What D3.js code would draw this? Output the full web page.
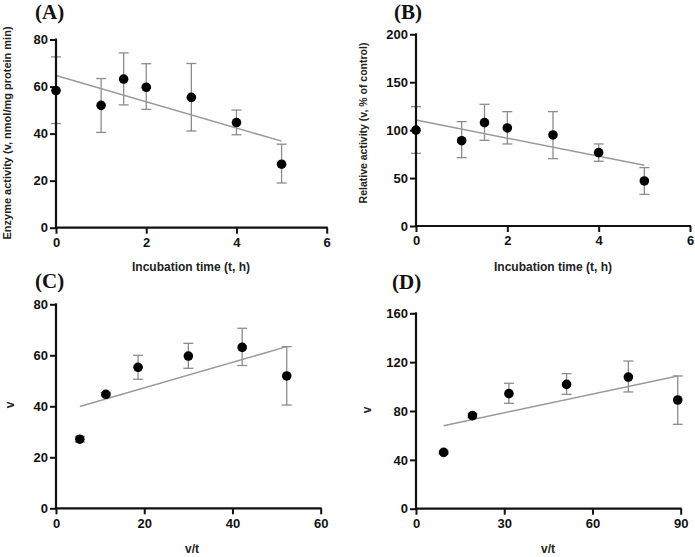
<!DOCTYPE html>
<html>
<head>
<meta charset="utf-8">
<script src="https://cdn.jsdelivr.net/npm/d3@7"></script>
<style>
  html, body { margin: 0; padding: 0; background: #fff; }
  svg { display: block; }
  .tick text { font-family: "Liberation Sans", Arial, sans-serif; font-weight: bold; font-size: 13px; fill: #111; }
  .panel-label { font-family: "Liberation Serif", "Times New Roman", serif; font-weight: bold; font-size: 21px; fill: #111; }
  .axis-title { font-family: "Liberation Sans", Arial, sans-serif; font-weight: bold; fill: #222; }
</style>
</head>
<body>
<svg id="chart" width="695" height="557"></svg>
<script>
// ---------- Data ----------
// Panel A: enzyme activity vs incubation time
const timeA = [0, 1, 1.5, 2, 3, 4, 5];
const activityA = [58.3, 52.0, 63.2, 59.7, 55.4, 44.7, 27.0];
const errLowA = [44.3, 40.5, 52.2, 50.3, 41.1, 39.5, 19.0];
const errHighA = [72.6, 63.4, 74.3, 69.7, 69.8, 50.0, 35.5];
const fitA = [[0, 64.7], [5, 36.8]];

// Panel B: relative activity (% of control)
const timeB = [0, 1, 1.5, 2, 3, 4, 5];
const activityB = [100.0, 89.0, 107.8, 102.3, 95.0, 76.5, 47.0];
const errLowB = [75.8, 71.3, 89.4, 85.6, 70.3, 67.5, 33.0];
const errHighB = [124.5, 108.9, 127.0, 119.3, 119.3, 85.6, 60.9];
const fitB = [[0, 110.6], [5, 63.3]];

// Panel C: v vs v/t
const vtC = [5.4, 11.3, 18.6, 30.0, 42.2, 52.3];
const vC = [27.1, 44.7, 55.3, 59.7, 63.1, 51.9];
const errLowC = [26.0, 44.0, 50.6, 54.9, 56.0, 40.5];
const errHighC = [28.2, 45.4, 60.0, 64.7, 70.6, 63.4];
const fitC = [[5.4, 39.9], [52.3, 63.4]];

// Panel D: v (% of control) vs v/t
const vtD = [9.4, 19.2, 31.6, 51.2, 72.2, 89.0];
const vD = [46.1, 76.2, 94.2, 101.8, 107.8, 89.0];
const errLowD = [45.0, 74.5, 86.3, 93.6, 95.6, 69.1];
const errHighD = [47.2, 78.0, 102.7, 110.6, 120.9, 108.7];
const fitD = [[9.4, 68.0], [89.0, 108.7]];

// Tick labels
const ticksXA = [0, 2, 4, 6], ticksYA = [0, 20, 40, 60, 80];
const ticksXB = [0, 2, 4, 6], ticksYB = [0, 50, 100, 150, 200];
const ticksXC = [0, 20, 40, 60], ticksYC = [0, 20, 40, 60, 80];
const ticksXD = [0, 30, 60, 90], ticksYD = [0, 40, 80, 120, 160];

const panelLabels = ["(A)", "(B)", "(C)", "(D)"];
const xTitles = ["Incubation time (t, h)", "Incubation time (t, h)", "v/t", "v/t"];
const yTitles = ["Enzyme activity (v, nmol/mg protein min)", "Relative activity (v, % of control)", "v", "v"];

// ---------- Drawing ----------
const svg = d3.select("#chart");

function panel(cfg) {
  const x = d3.scaleLinear().domain(cfg.xDomain).range([cfg.left, cfg.right]);
  const y = d3.scaleLinear().domain(cfg.yDomain).range([cfg.bottom, cfg.top]);
  const g = svg.append("g");
  const grey = "#8c8c8c";
  const cap = 5;

  // error bars (under the axes)
  const eb = g.append("g").attr("stroke", grey).attr("stroke-width", 1.3).attr("fill", "none");
  cfg.xs.forEach((xv, i) => {
    const lo = cfg.lo[i], hi = cfg.hi[i];
    eb.append("line").attr("x1", x(xv)).attr("x2", x(xv)).attr("y1", y(lo)).attr("y2", y(hi));
    eb.append("line").attr("x1", x(xv) - cap).attr("x2", x(xv) + cap).attr("y1", y(lo)).attr("y2", y(lo));
    eb.append("line").attr("x1", x(xv) - cap).attr("x2", x(xv) + cap).attr("y1", y(hi)).attr("y2", y(hi));
  });

  // fit line
  g.append("path")
    .datum(cfg.fit)
    .attr("fill", "none")
    .attr("stroke", "#9a9a9a")
    .attr("stroke-width", 1.5)
    .attr("d", d3.line().x(d => x(d[0])).y(d => y(d[1])));

  // axes
  const xAxis = g.append("g")
    .attr("transform", `translate(0,${cfg.bottom})`)
    .call(d3.axisBottom(x).tickValues(cfg.xTicks).tickFormat(d3.format("d")).tickSize(6).tickPadding(4));
  const yAxis = g.append("g")
    .attr("transform", `translate(${cfg.left},0)`)
    .call(d3.axisLeft(y).tickValues(cfg.yTicks).tickFormat(d3.format("d")).tickSize(6).tickPadding(2));
  [xAxis, yAxis].forEach(a => {
    a.select(".domain").attr("stroke", "#111").attr("stroke-width", 2.2);
    a.selectAll(".tick line").attr("stroke", "#111").attr("stroke-width", 2);
  });
  xAxis.select(".domain").attr("d", `M${cfg.left - 1},0H${cfg.right + 1}`);
  yAxis.select(".domain").attr("d", `M0,${cfg.top - 1}V${cfg.bottom + 1}`);

  // points
  g.append("g").selectAll("circle")
    .data(cfg.xs.map((xv, i) => [xv, cfg.ys[i]]))
    .join("circle")
    .attr("cx", d => x(d[0]))
    .attr("cy", d => y(d[1]))
    .attr("r", 4.8)
    .attr("fill", "#000");

  // panel label
  g.append("text").attr("class", "panel-label")
    .attr("x", cfg.labelX).attr("y", cfg.labelY).text(cfg.label);

  // x title
  g.append("text").attr("class", "axis-title")
    .attr("x", cfg.xTitleX).attr("y", cfg.xTitleY)
    .attr("text-anchor", "middle").attr("font-size", 12)
    .text(cfg.xTitle);

  // y title
  g.append("text").attr("class", "axis-title")
    .attr("transform", `translate(${cfg.yTitleX},${cfg.yTitleY}) rotate(-90)`)
    .attr("text-anchor", "middle").attr("font-size", cfg.yTitleSize)
    .text(cfg.yTitle);
}

panel({
  xDomain: [0, 6], yDomain: [0, 80], left: 56, right: 326.7, top: 39.5, bottom: 227.7,
  xTicks: ticksXA, yTicks: ticksYA, xs: timeA, ys: activityA, lo: errLowA, hi: errHighA, fit: fitA,
  label: panelLabels[0], labelX: 35, labelY: 19,
  xTitle: xTitles[0], xTitleX: 191, xTitleY: 271,
  yTitle: yTitles[0], yTitleX: 11, yTitleY: 133, yTitleSize: 11
});
panel({
  xDomain: [0, 6], yDomain: [0, 200], left: 416, right: 690, top: 34.3, bottom: 226,
  xTicks: ticksXB, yTicks: ticksYB, xs: timeB, ys: activityB, lo: errLowB, hi: errHighB, fit: fitB,
  label: panelLabels[1], labelX: 394, labelY: 19,
  xTitle: xTitles[1], xTitleX: 553, xTitleY: 271,
  yTitle: yTitles[1], yTitleX: 367, yTitleY: 123, yTitleSize: 10.5
});
panel({
  xDomain: [0, 60], yDomain: [0, 80], left: 56, right: 320.7, top: 304.3, bottom: 508.3,
  xTicks: ticksXC, yTicks: ticksYC, xs: vtC, ys: vC, lo: errLowC, hi: errHighC, fit: fitC,
  label: panelLabels[2], labelX: 35, labelY: 288,
  xTitle: xTitles[2], xTitleX: 192, xTitleY: 553,
  yTitle: yTitles[2], yTitleX: 14, yTitleY: 405, yTitleSize: 12
});
panel({
  xDomain: [0, 90], yDomain: [0, 160], left: 416, right: 680.7, top: 313.3, bottom: 508.7,
  xTicks: ticksXD, yTicks: ticksYD, xs: vtD, ys: vD, lo: errLowD, hi: errHighD, fit: fitD,
  label: panelLabels[3], labelX: 392, labelY: 289,
  xTitle: xTitles[3], xTitleX: 548, xTitleY: 553,
  yTitle: yTitles[3], yTitleX: 371, yTitleY: 410, yTitleSize: 12
});
</script>
</body>
</html>
